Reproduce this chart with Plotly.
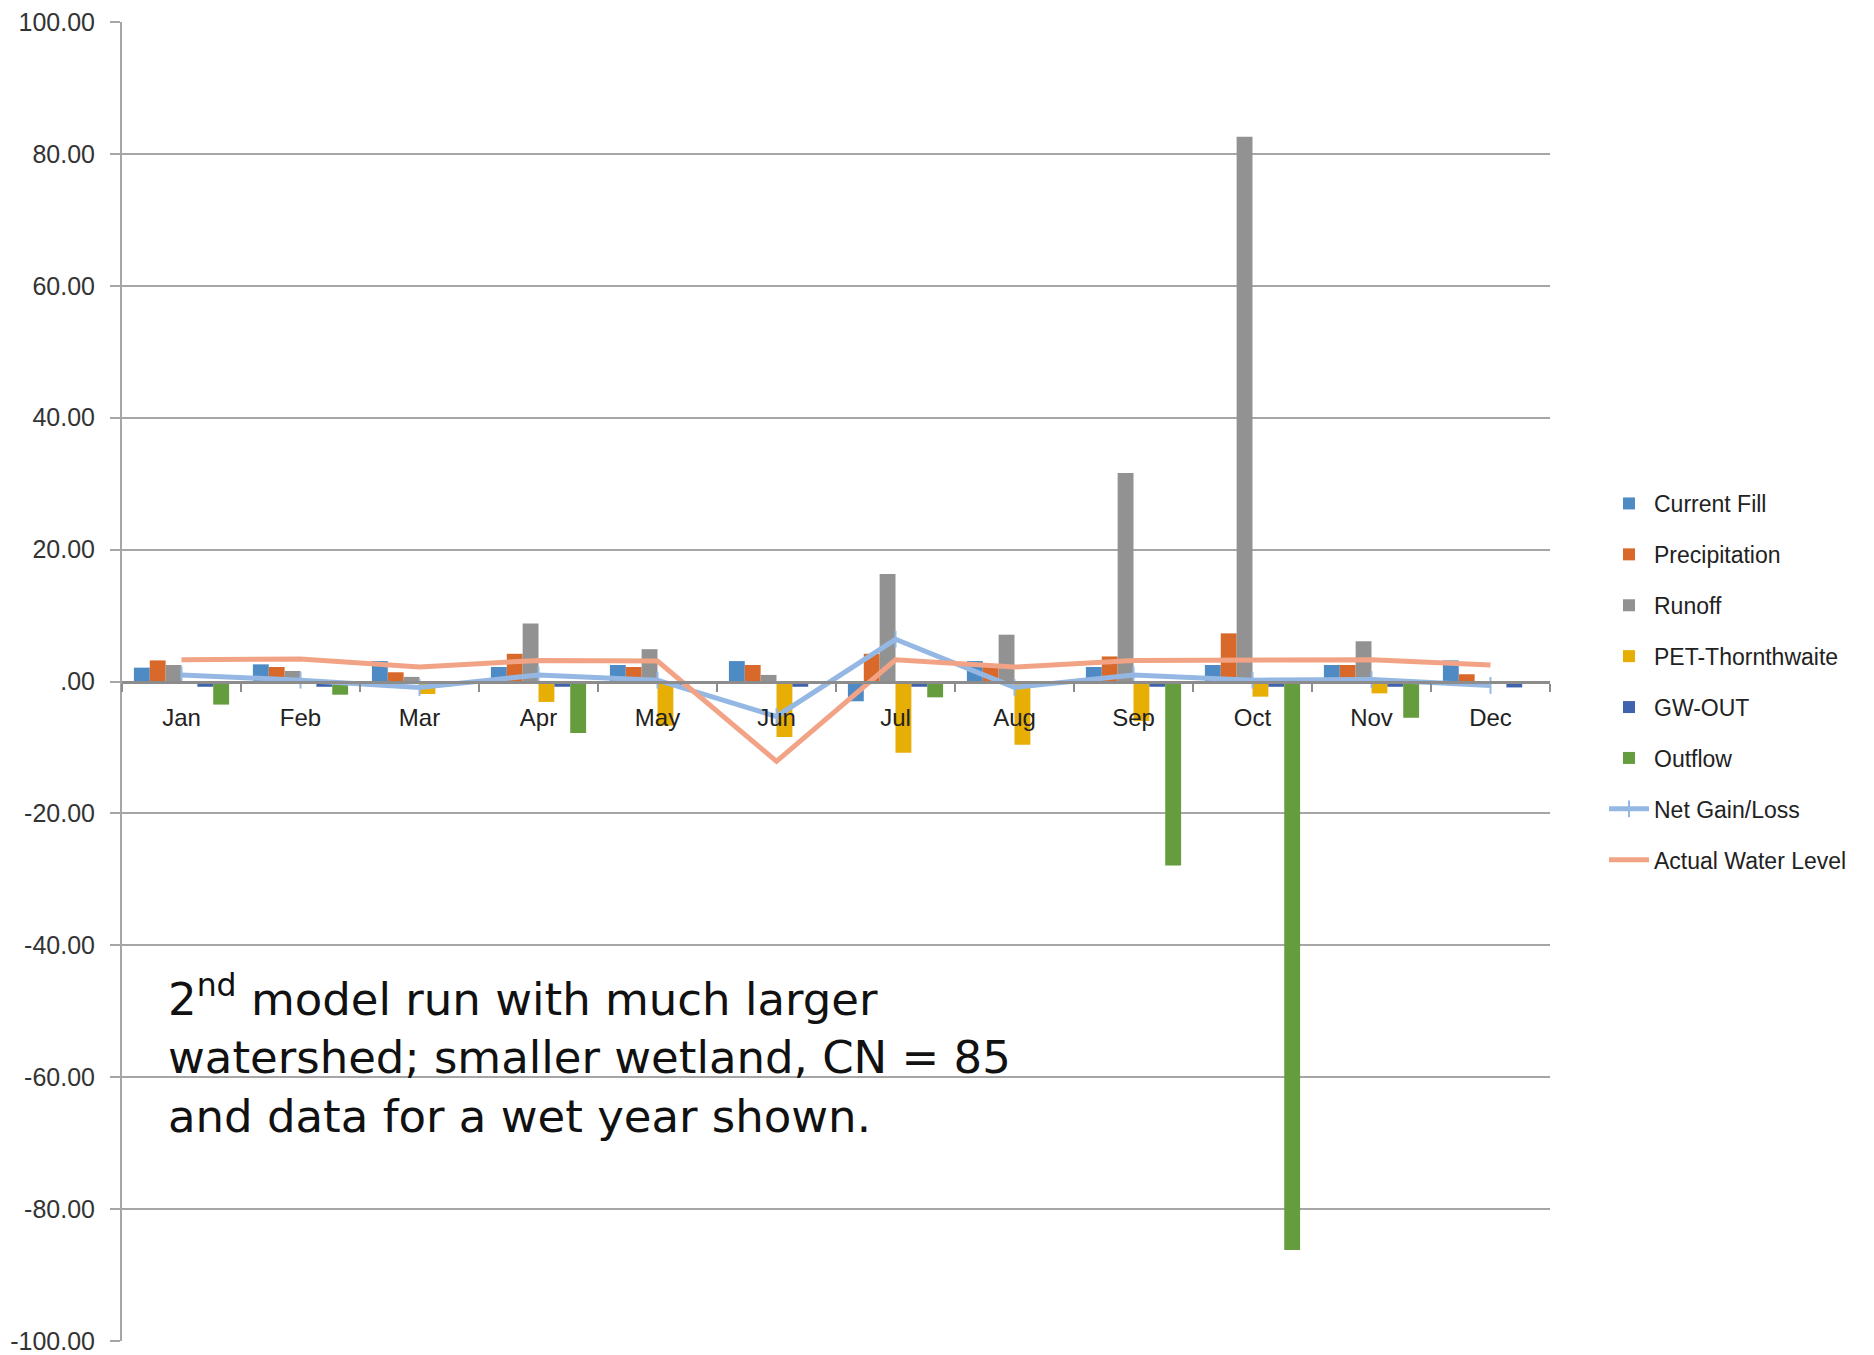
import plotly.graph_objects as go

months = ["Jan", "Feb", "Mar", "Apr", "May", "Jun", "Jul", "Aug", "Sep", "Oct", "Nov", "Dec"]
current_fill = [2.1, 2.6, 3.1, 2.2, 2.5, 3.1, -3.0, 3.1, 2.2, 2.5, 2.5, 3.2]
precipitation = [3.2, 2.2, 1.4, 4.2, 2.2, 2.5, 4.2, 2.3, 3.8, 7.3, 2.5, 1.1]
runoff = [2.5, 1.6, 0.7, 8.8, 4.9, 1.0, 16.3, 7.1, 31.6, 82.6, 6.1, 0.0]
pet_thornthwaite = [0.0, 0.0, -1.9, -3.1, -6.7, -8.4, -10.8, -9.6, -6.0, -2.3, -1.8, -0.3]
gw_out = [-0.8, -0.8, -0.5, -0.8, -0.5, -0.8, -0.8, -0.4, -0.8, -0.8, -0.8, -0.9]
outflow = [-3.5, -2.0, 0.0, -7.8, 0.0, -0.1, -2.4, 0.0, -27.9, -86.2, -5.5, 0.0]
net_gain_loss = [1.0, 0.2, -0.9, 1.0, 0.2, -5.3, 6.4, -0.9, 1.0, 0.2, 0.3, -0.6]
actual_water_level = [3.3, 3.4, 2.2, 3.2, 3.1, -12.1, 3.3, 2.2, 3.2, 3.2, 3.3, 2.5]

y_tick_vals = [100, 80, 60, 40, 20, 0, -20, -40, -60, -80, -100]
y_tick_text = ["100.00", "80.00", "60.00", "40.00", "20.00", ".00", "-20.00", "-40.00", "-60.00", "-80.00", "-100.00"]

note_text = ("2<sup>nd</sup> model run with much larger<br>"
             "watershed; smaller wetland, CN = 85<br>"
             "and data for a wet year shown.")

bar_series = [
    ("Current Fill", current_fill, "#4E8BC4"),
    ("Precipitation", precipitation, "#D9692A"),
    ("Runoff", runoff, "#929292"),
    ("PET-Thornthwaite", pet_thornthwaite, "#E7AE05"),
    ("GW-OUT", gw_out, "#3F64AD"),
    ("Outflow", outflow, "#659C3D"),
]

L, T, B = 114, 14, 22
PH, PW = 1355 - T - B, 1428

fig = go.Figure()
for i, (name, vals, col) in enumerate(bar_series):
    fig.add_trace(go.Bar(x=months, y=vals, name=name, marker=dict(color=col, line=dict(width=0)),
                         legendgroup=str(i)))

fig.add_trace(go.Scatter(x=months, y=net_gain_loss, name="Net Gain/Loss", mode="lines+markers",
                         line=dict(color="#94B8E3", width=5),
                         marker=dict(symbol="line-ns", size=12, line=dict(color="#94B8E3", width=2)),
                         legendgroup="6"))
fig.add_trace(go.Scatter(x=months, y=actual_water_level, name="Actual Water Level", mode="lines",
                         line=dict(color="#F2A385", width=5), legendgroup="7"))

fig.add_annotation(text=note_text, xref="paper", yref="paper", x=(158 - L) / PW, y=1 - (957 - T) / PH,
                   xanchor="left", yanchor="top", align="left", showarrow=False,
                   font=dict(family="DejaVu Sans", size=45, color="#111111"))

fig.update_layout(
    width=1874, height=1355,
    margin=dict(l=L, r=1874 - L - PW, t=T, b=B, autoexpand=False),
    paper_bgcolor="white", plot_bgcolor="white",
    barmode="group", bargap=0.2, bargroupgap=0,
    font=dict(family="Liberation Sans", size=24, color="#333333"),
    legend=dict(x=(1596 - L) / PW, y=1 - (474 - T) / PH, xanchor="left", yanchor="top",
                font=dict(size=23, color="#222222"), tracegroupgap=18, itemwidth=40,
                bgcolor="rgba(0,0,0,0)"),
    showlegend=True,
)
fig.update_xaxes(type="category", range=[-0.5, 11.5], anchor="free", position=0.5, automargin=False,
                 showline=True, linecolor="#8C8C8C", linewidth=3,
                 ticks="outside", tickson="boundaries", ticklen=8, tickcolor="#8C8C8C", tickwidth=2,
                 ticklabelstandoff=14,
                 showgrid=False, zeroline=False, tickfont=dict(size=24, color="#222222"))
fig.update_yaxes(range=[-100, 100], tickvals=y_tick_vals, ticktext=y_tick_text, automargin=False,
                 ticklabeloverflow="allow",
                 showgrid=True, gridcolor="#A6A6A6", gridwidth=2, zeroline=False,
                 showline=True, linecolor="#A6A6A6", linewidth=2,
                 ticks="outside", ticklen=10, tickcolor="#A6A6A6", tickwidth=2,
                 ticklabelstandoff=10,
                 tickfont=dict(size=25, color="#333333"))

fig.write_html("out.html")
